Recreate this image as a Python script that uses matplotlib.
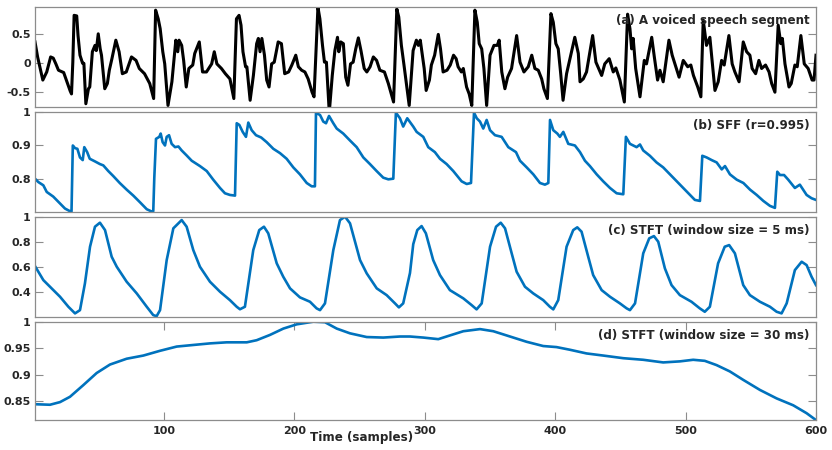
import numpy as np
import matplotlib
matplotlib.use("Agg")
from matplotlib import pyplot as plt

# values (sample index, amplitude)
speech = [(1,0.37),(3,0.11),(5,-0.09),(7,-0.29),(10,-0.15),(13,0.11),(15,0.09),(17,-0.01),(19,-0.12),
          (23,-0.16),(25,-0.29),(28,-0.48),(29,-0.53),(30,0.02),(31,0.83),(33,0.82),(34,0.48),(35.5,0.14),
          (37.5,0.0),(38.5,0.0),(40,-0.70),(42,-0.44),(43,-0.41),(45,0.20),(47,0.31),(48,0.22),(49.5,0.51),
          (51,0.25),(52,0.14),(54.5,-0.44),(56.5,-0.35),(58,-0.12),(60,0.08),(63,0.40),(65.5,0.20),(68,-0.18),
          (71,-0.15),(75,0.11),(78.5,0.05),(81,-0.09),(85,-0.18),(89,-0.35),(92,-0.61),(93.5,0.92),(95.5,0.77),
          (97,0.60),(99,0.20),(100.5,-0.01),(103,-0.73),(106,-0.32),(109,0.40),(110.5,0.20),(111.5,0.40),
          (113.5,0.31),(115,0.05),(117,-0.41),(119,-0.09),(122,-0.03),(123.5,0.17),(127,0.37),(129.5,-0.15),
          (132.5,-0.15),(136.5,-0.01),(138.5,0.20),(140.5,-0.01),(144,-0.09),(147,-0.18),(150.5,-0.27),
          (153.5,-0.61),(155.5,0.77),(157.5,0.83),(159,0.66),(160.5,0.20),(162.5,-0.06),(163.5,-0.06),
          (166,-0.64),(168.5,-0.21),(171,0.34),(172.3,0.43),(173.6,0.20),(175,0.43),(177,0.14),(178.7,-0.29),
          (180.5,-0.41),(182.5,-0.01),(184.5,0.02),(187.5,0.37),(190,0.34),(192.5,-0.18),(195.5,-0.15),
          (198,-0.03),(201,0.14),(203,-0.06),(205.5,-0.12),(208,-0.15),(210.5,-0.27),(213.5,-0.50),(215,-0.58),
          (218,0.97),(219.5,0.77),(221.5,0.31),(223,0.02),(224.5,0.02),(226.7,-0.85),(229,-0.21),(231,0.22),
          (233,0.45),(234,0.20),(235.5,0.37),(237.5,0.34),(239.3,-0.24),(241,-0.38),(243,-0.01),(245,0.02),
          (247,0.25),(249,0.44),(251,0.22),(253.5,-0.09),(255.5,-0.15),(258,-0.06),(260.5,0.11),(263,0.05),
          (265.5,-0.12),(269,-0.15),(272,-0.35),(276,-0.67),(278.5,0.94),(280,0.80),(282,0.31),(284,-0.03),
          (288,-0.73),(291,0.22),(293.5,0.40),(295,0.31),(296.5,0.40),(298,0.15),(299.5,-0.09),(301,-0.47),
          (303.5,-0.29),(305,-0.03),(307.5,0.14),(310.3,0.50),(312,0.25),(314,-0.15),(317,-0.12),(319.5,-0.03),
          (322,0.14),(324,0.08),(325.5,-0.06),(328,-0.15),(329.5,-0.09),(332,-0.41),(334,-0.53),(336,-0.73),
          (338.4,0.92),(340.2,0.71),(341.7,0.34),(343.6,0.25),(345.3,-0.09),(347.4,-0.73),(350,0.14),(353,0.31),
          (355.5,0.31),(357,0.40),(359,-0.15),(361.4,-0.44),(363.5,-0.24),(366.5,-0.09),(370.4,0.48),(373,0.02),
          (376,-0.15),(379.3,-0.06),(382,0.14),(384.4,-0.09),(387,-0.12),(389.6,-0.27),(391.3,-0.44),(394,-0.61),
          (396.7,0.86),(398.5,0.71),(400.5,0.34),(402.3,0.25),(404.2,-0.18),(406,-0.64),(408.7,-0.18),
          (411.3,0.08),(415,0.45),(417.7,0.17),(419,-0.32),(421.5,-0.27),(424,-0.15),(428.7,0.48),(431.2,0.02),
          (435.6,-0.21),(438,-0.01),(441.4,0.08),(444.5,-0.15),(446.5,-0.08),(449.6,-0.29),(453,-0.67),
          (455.5,0.85),(457.3,0.60),(458.6,0.25),(459.8,0.43),(461.7,-0.09),(465,-0.58),(468.3,0.05),(470,-0.01),
          (474,0.45),(476,0.11),(478.5,-0.29),(480.3,-0.12),(482.8,-0.32),(487.2,0.40),(489.7,0.14),(491.8,-0.01),
          (495,-0.24),(498.2,0.05),(501.6,-0.06),(504,-0.03),(506,-0.21),(509.3,-0.41),(511.7,-0.58),(513.5,0.75),
          (516,0.31),(518.6,0.45),(520.4,0.02),(522.5,-0.47),(525,-0.32),(527.6,0.05),(529.6,-0.03),(533.2,0.48),
          (535.7,-0.01),(537.8,-0.15),(541,-0.32),(544.2,0.37),(546.8,0.20),(549.3,0.14),(551,-0.09),(553.7,-0.18),
          (556.2,0.05),(558.3,-0.09),(561.3,-0.03),(564,-0.15),(566,-0.35),(568.5,-0.50),(571,0.66),(573,0.34),
          (574.2,0.43),(576.2,-0.01),(579.3,-0.41),(581,-0.35),(583.8,-0.03),(585.6,-0.06),(588.4,0.48),
          (591,-0.01),(594,-0.09),(597,-0.29),(598.5,-0.29),(600,0.14)]

sff = [(1,0.80),(3.5,0.79),(7.4,0.78),(10,0.76),(15,0.746),(20,0.726),(24,0.71),(27.8,0.702),(29,0.701),
       (30,0.90),(31.7,0.892),(33.5,0.89),(35.5,0.864),(37.6,0.856),(38.8,0.895),(41,0.88),(43,0.86),
       (47,0.852),(50.8,0.844),(53.4,0.84),(57.2,0.823),(61,0.808),(66,0.787),(71.3,0.767),(76.4,0.749),
       (81.5,0.729),(86.7,0.708),(90.5,0.701),(91.7,0.702),(92.5,0.803),(93.8,0.92),(96.3,0.926),(97.4,0.936),
       (98.9,0.91),(100.7,0.90),(102,0.926),(103.8,0.931),(105.8,0.905),(108.4,0.895),(111,0.897),
       (113.5,0.885),(117.3,0.87),(121.2,0.854),(127.5,0.838),(132.7,0.823),(137.7,0.797),(142.9,0.772),
       (146.7,0.756),(150.5,0.751),(154.4,0.749),(155.7,0.967),(157.7,0.962),(160.3,0.941),(162.8,0.926),
       (164.6,0.969),(167.2,0.946),(170.5,0.931),(174.5,0.924),(178.7,0.91),(183.8,0.89),(188.9,0.877),
       (194,0.86),(199.1,0.834),(204.2,0.813),(209.4,0.787),(213.2,0.777),(215.7,0.777),(216.5,0.998),
       (219.6,0.992),(222.1,0.972),(224.2,0.967),(226.5,0.989),(229.8,0.967),(232.4,0.951),(237.4,0.936),
       (242.6,0.915),(247.7,0.895),(252.8,0.864),(257.9,0.844),(263,0.823),(268.1,0.803),(272,0.798),
       (275.8,0.80),(277.8,0.999),(280.9,0.982),(283.4,0.957),(286.5,0.982),(291.1,0.957),(293.7,0.941),
       (298.8,0.926),(302.6,0.895),(307.7,0.88),(311.6,0.86),(316.7,0.844),(321.8,0.823),(328.2,0.792),
       (332.1,0.784),(335.4,0.787),(337.7,0.999),(339.8,0.982),(342.3,0.972),(344.8,0.951),(347.4,0.977),
       (350,0.946),(353.8,0.931),(358.9,0.926),(364,0.895),(369.9,0.88),(373,0.854),(378.1,0.834),
       (383.2,0.813),(388.3,0.787),(392.1,0.782),(394.7,0.787),(396,0.977),(398.5,0.946),(401.6,0.936),
       (403.6,0.926),(406.2,0.941),(410,0.905),(415.1,0.90),(419,0.88),(422.8,0.854),(426.6,0.838),
       (431.8,0.813),(436.8,0.792),(442,0.772),(447.1,0.756),(452.2,0.753),(454.2,0.926),(457.3,0.905),
       (462.4,0.895),(465,0.903),(467.5,0.885),(472.6,0.869),(477.7,0.849),(482.8,0.834),(488,0.813),
       (493.1,0.792),(498.2,0.772),(503.3,0.751),(507.1,0.736),(511,0.733),(512.8,0.869),(516.1,0.864),
       (520,0.856),(523.8,0.849),(527.7,0.828),(530.2,0.838),(534,0.813),(539.2,0.797),(544.3,0.787),
       (549.4,0.767),(554.5,0.751),(559.6,0.733),(564.7,0.718),(568.5,0.712),(570.3,0.821),(572.4,0.811),
       (575.5,0.811),(578.7,0.797),(583.8,0.772),(587.6,0.782),(592.8,0.751),(596.6,0.741),(600,0.736)]

stft5 = [(1,0.605),(7.4,0.493),(12.5,0.44),(20.2,0.36),(26.6,0.28),(31.7,0.227),(35.5,0.253),(39.3,0.467),
         (43.2,0.76),(47,0.92),(50.8,0.952),(54.7,0.893),(59.8,0.68),(63.7,0.60),(71.3,0.48),(79,0.387),
         (86.7,0.28),(91.7,0.213),(94.3,0.205),(96.9,0.253),(102,0.653),(107.1,0.907),(113.5,0.973),
         (117.3,0.92),(122.4,0.733),(127.5,0.60),(135.2,0.48),(142.9,0.40),(150.5,0.333),(155.7,0.28),
         (158.2,0.26),(162,0.28),(168.4,0.733),(173,0.893),(176.6,0.92),(179.9,0.867),(186.4,0.627),
         (191.4,0.52),(196.6,0.427),(204.2,0.355),(211.9,0.32),(217,0.267),(219.6,0.253),(223.4,0.307),
         (229.8,0.733),(234.9,0.973),(238.8,1.0),(242.6,0.947),(250.3,0.653),(255.4,0.547),(263.1,0.427),
         (270.7,0.373),(277.1,0.307),(280.1,0.275),(283.4,0.307),(288.6,0.55),(291.1,0.78),(294.2,0.893),
         (297.5,0.925),(300.8,0.867),(306.4,0.653),(311.6,0.533),(319.2,0.413),(329.5,0.347),(335.9,0.293),
         (339.7,0.259),(343.6,0.307),(350,0.76),(354.6,0.92),(358.2,0.952),(361.5,0.907),(366.6,0.707),
         (370.4,0.56),(376.8,0.44),(383.1,0.387),(390.8,0.333),(395.9,0.28),(398.5,0.259),(402.3,0.333),
         (408.7,0.76),(413.8,0.893),(416.9,0.915),(420.2,0.88),(425.3,0.68),(429.1,0.533),(435.6,0.413),
         (442,0.36),(449.6,0.307),(454.8,0.267),(457.3,0.253),(461.2,0.307),(467.5,0.707),(472.1,0.827),
         (475.7,0.845),(479,0.80),(484.1,0.587),(489.2,0.453),(495.6,0.373),(504.5,0.32),(510.9,0.267),
         (514.7,0.24),(518.6,0.28),(524.9,0.627),(530,0.76),(533.4,0.773),(537.8,0.707),(544.2,0.453),
         (549.3,0.373),(557,0.32),(564.7,0.28),(569.8,0.24),(573.6,0.227),(577.5,0.307),(583.8,0.573),
         (589,0.64),(592.8,0.613),(596.6,0.52),(600,0.453)]

stft30 = [(1,0.844),(12.5,0.843),(20.2,0.848),(27.8,0.858),(38,0.880),(48.3,0.903),(58.5,0.919),
          (71.3,0.930),(84.1,0.936),(96.9,0.945),(109.7,0.953),(122.4,0.956),(135.2,0.959),(148,0.961),
          (163.4,0.961),(171,0.965),(181.2,0.975),(191.5,0.987),(201.7,0.995),(214.5,1.0),(223.4,0.999),
          (232.4,0.987),(242.6,0.978),(255.4,0.971),(268.1,0.970),(280.9,0.972),(288.6,0.972),(298.8,0.970),
          (310.3,0.967),(319.2,0.974),(329.5,0.982),(342.3,0.986),(352.5,0.982),(365.3,0.972),(378.1,0.962),
          (390.8,0.954),(401,0.952),(411.2,0.947),(424,0.940),(436.8,0.936),(452.2,0.931),(467.5,0.928),
          (482.8,0.923),(495.6,0.925),(505.8,0.928),(514.7,0.926),(523.7,0.918),(533.9,0.906),(544.2,0.890),
          (557,0.871),(569.8,0.855),(582.5,0.842),(592.8,0.827),(600,0.814)]

titles = ["(a) A voiced speech segment", "(b) SFF (r=0.995)",
          "(c) STFT (window size = 5 ms)", "(d) STFT (window size = 30 ms)"]
ylims = [(-0.751, 0.969), (0.7005, 1.0), (0.2005, 1.0), (0.8136, 1.0)]
yticks = [[-0.5, 0, 0.5], [0.8, 0.9, 1], [0.4, 0.6, 0.8, 1], [0.85, 0.9, 0.95, 1]]
ytlabels = [["-0.5", "0", "0.5"], ["0.8", "0.9", "1"], ["0.4", "0.6", "0.8", "1"],
            ["0.85", "0.9", "0.95", "1"]]
xticks = [100, 200, 300, 400, 500, 600]

blue = "#0072BD"
edge = "#8c8c8c"
txt = "#262626"

fig = plt.figure(figsize=(8.32, 4.5), dpi=100)
tops = [7.3, 112.3, 216.7, 321.7]
bots = [106.7, 211.7, 316.7, 420.3]
left, right = 35, 816

series = [speech, sff, stft5, stft30]
for i in range(4):
    ax = fig.add_axes([left/832, 1 - bots[i]/450, (right-left)/832, (bots[i]-tops[i])/450])
    t, v = np.array(series[i]).T
    ax.plot(t, v, color="black" if i == 0 else blue, lw=2.2 if i == 0 else 1.9,
            solid_joinstyle="round")
    ax.set_xlim(1, 600)
    ax.set_ylim(*ylims[i])
    ax.set_yticks(yticks[i])
    ax.set_yticklabels(ytlabels[i], fontsize=8, fontweight="bold", color=txt)
    ax.tick_params(axis="y", direction="in", length=5.5, width=0.8, color=edge,
                   left=True, right=True, pad=3)
    if i == 3:
        ax.set_xticks(xticks)
        ax.set_xticklabels([str(x) for x in xticks], fontsize=8, fontweight="bold", color=txt)
        ax.tick_params(axis="x", direction="in", length=5.5, width=0.8, color=edge,
                       top=True, bottom=True, pad=4)
    else:
        ax.set_xticks([])
    for s in ax.spines.values():
        s.set_color(edge)
        s.set_linewidth(0.9)
    ax.text(0.992, 0.93, titles[i], transform=ax.transAxes, ha="right", va="top",
            fontsize=8.6, fontweight="bold", color=txt)

fig.text(362/832, 1 - 437/450, "Time (samples)", ha="center", va="center",
         fontsize=8.6, fontweight="bold", color=txt)

fig.savefig("out.png", dpi=100)
